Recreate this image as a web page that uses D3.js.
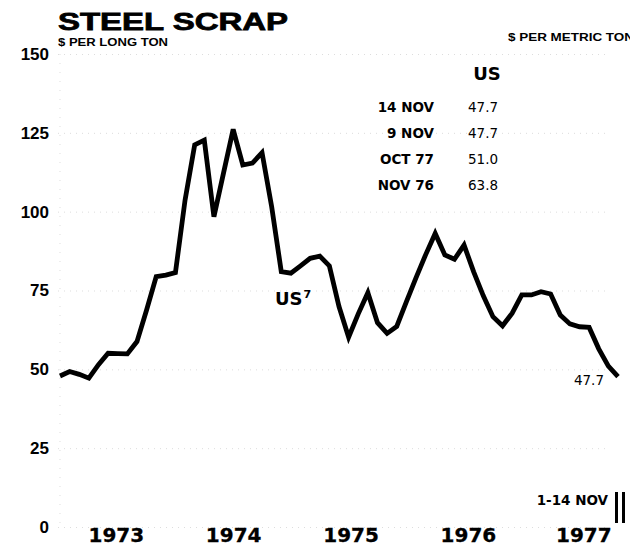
<!DOCTYPE html>
<html>
<head>
<meta charset="utf-8">
<script src="https://cdn.jsdelivr.net/npm/d3@7"></script>
<style>
  html, body { margin: 0; padding: 0; background: #fff; }
  svg { display: block; }
</style>
</head>
<body>
<svg id="chart" width="630" height="546"></svg>
<script>
// US steel scrap price, $ per long ton, monthly Jan 1973 – Oct 1977, then 1-14 Nov 1977
const months = d3.range(59); // 0 = Jan 1973 ... 57 = Oct 1977, 58 = 1-14 Nov 1977
const usPrice = [
  47.9, 49.3, 48.4, 47.2, 51.5, 55.1, 55.0, 54.9, 58.8, 68.8, 79.4, 79.9,   // 1973
  80.7, 103.7, 121.2, 122.7, 98.4, 112.3, 126.1, 114.8, 115.4, 118.7, 101.6, 81.0, // 1974
  80.5, 82.8, 85.2, 85.9, 82.8, 69.9, 60.2, 67.6, 74.3, 64.8, 61.4, 63.6,   // 1975
  71.4, 79.0, 86.3, 93.1, 86.3, 84.9, 89.4, 80.9, 73.3, 66.7, 63.8, 67.8,   // 1976
  73.6, 73.6, 74.6, 73.9, 67.2, 64.4, 63.5, 63.3, 56.5, 51.0,               // 1977 Jan–Oct
  47.7                                                                      // 1-14 Nov 1977
];
const yearLabels = ["1973", "1974", "1975", "1976", "1977"];
const yearMidIndex = [5.8, 18, 30.2, 42.4, 54.4];
const yTicks = [0, 25, 50, 75, 100, 125, 150];

const tableHeader = "US";
const tableDates = ["14 NOV", "9 NOV", "OCT 77", "NOV 76"];
const tableValues = ["47.7", "47.7", "51.0", "63.8"];
const lastValueLabel = "47.7";

const svg = d3.select("#chart");

const x = d3.scaleLinear().domain([0, 58]).range([60, 618]);
const y = d3.scaleLinear().domain([0, 150]).range([527, 54]);

// Gridlines and y labels
const yAxis = d3.axisLeft(y)
  .tickValues(yTicks)
  .tickSize(-(605 - 58))
  .tickPadding(9)
  .tickFormat(d3.format("d"));

const gy = svg.append("g")
  .attr("transform", "translate(58,0)")
  .call(yAxis);
gy.select(".domain").remove();
gy.selectAll(".tick line")
  .attr("stroke", "#cfcfcf")
  .attr("stroke-width", 0.7)
  .attr("stroke-dasharray", "1,5");
gy.selectAll(".tick text")
  .attr("fill", "#000")
  .style("font-family", "'Liberation Sans', Arial, sans-serif")
  .style("font-weight", "bold")
  .style("font-size", "17px");

// faint dotted left edge
svg.append("line")
  .attr("x1", 60).attr("x2", 60)
  .attr("y1", y(150)).attr("y2", y(0))
  .attr("stroke", "#d0d0d0")
  .attr("stroke-width", 0.7)
  .attr("stroke-dasharray", "1,8");

// Year labels
const xAxis = d3.axisBottom(x)
  .tickValues(yearMidIndex)
  .tickSize(0)
  .tickPadding(0)
  .tickFormat((d, i) => yearLabels[i]);

const gx = svg.append("g")
  .attr("transform", "translate(0,527)")
  .call(xAxis);
gx.select(".domain").remove();
gx.selectAll(".tick text")
  .attr("fill", "#000")
  .attr("dy", "15px")
  .attr("stroke", "#000")
  .attr("stroke-width", 0.3)
  .style("font-family", "'DejaVu Sans', sans-serif")
  .style("font-weight", "bold")
  .style("font-size", "20px");

// Price line
const line = d3.line()
  .x((d, i) => x(months[i]))
  .y(d => y(d));

svg.append("path")
  .datum(usPrice)
  .attr("fill", "none")
  .attr("stroke", "#000")
  .attr("stroke-width", 4.8)
  .attr("stroke-linejoin", "miter")
  .attr("stroke-miterlimit", 4)
  .attr("d", line);

// Titles
svg.append("text")
  .attr("x", 58).attr("y", 30)
  .attr("textLength", 230)
  .attr("lengthAdjust", "spacingAndGlyphs")
  .attr("stroke", "#000")
  .attr("stroke-width", 0.8)
  .style("font-family", "'Liberation Sans', Arial, sans-serif")
  .style("font-weight", "bold")
  .style("font-size", "24.5px")
  .text("STEEL SCRAP");

svg.append("text")
  .attr("x", 58).attr("y", 46)
  .attr("textLength", 110)
  .attr("lengthAdjust", "spacingAndGlyphs")
  .style("font-family", "'Liberation Sans', Arial, sans-serif")
  .style("font-weight", "bold")
  .style("font-size", "11px")
  .text("$ PER LONG TON");

svg.append("text")
  .attr("x", 508).attr("y", 40.5)
  .attr("textLength", 126)
  .attr("lengthAdjust", "spacingAndGlyphs")
  .style("font-family", "'Liberation Sans', Arial, sans-serif")
  .style("font-weight", "bold")
  .style("font-size", "11px")
  .text("$ PER METRIC TON");

// Latest prices table
svg.append("text")
  .attr("x", 487).attr("y", 80)
  .attr("text-anchor", "middle")
  .style("font-family", "'DejaVu Sans', sans-serif")
  .style("font-weight", "bold")
  .style("font-size", "18px")
  .text(tableHeader);

const rows = svg.append("g").selectAll("g")
  .data(tableDates)
  .join("g")
  .attr("transform", (d, i) => `translate(0,${112 + i * 26})`);

rows.append("text")
  .attr("x", 434)
  .attr("text-anchor", "end")
  .style("font-family", "'DejaVu Sans', sans-serif")
  .style("font-weight", "bold")
  .style("font-size", "13.5px")
  .text(d => d);

rows.append("text")
  .attr("x", 468)
  .style("font-family", "'DejaVu Sans', sans-serif")
  .style("font-size", "13.5px")
  .text((d, i) => tableValues[i]);

// Series label
const usLabel = svg.append("text")
  .attr("x", 275).attr("y", 305)
  .style("font-family", "'DejaVu Sans', sans-serif")
  .style("font-weight", "bold")
  .style("font-size", "18px");
usLabel.append("tspan").text("US");
usLabel.append("tspan")
  .attr("dx", 1).attr("dy", -7)
  .style("font-size", "11px")
  .text("7");

// Last value label
svg.append("text")
  .attr("x", 604).attr("y", 385)
  .attr("text-anchor", "end")
  .style("font-family", "'DejaVu Sans', sans-serif")
  .style("font-size", "13.5px")
  .text(lastValueLabel);

// Partial-month marker
svg.append("text")
  .attr("x", 608).attr("y", 505)
  .attr("text-anchor", "end")
  .style("font-family", "'DejaVu Sans', sans-serif")
  .style("font-weight", "bold")
  .style("font-size", "13.5px")
  .text("1-14 NOV");

svg.append("g").selectAll("line")
  .data([616.5, 623.5])
  .join("line")
  .attr("x1", d => d).attr("x2", d => d)
  .attr("y1", 492).attr("y2", 523)
  .attr("stroke", "#000")
  .attr("stroke-width", 3);
</script>
</body>
</html>
